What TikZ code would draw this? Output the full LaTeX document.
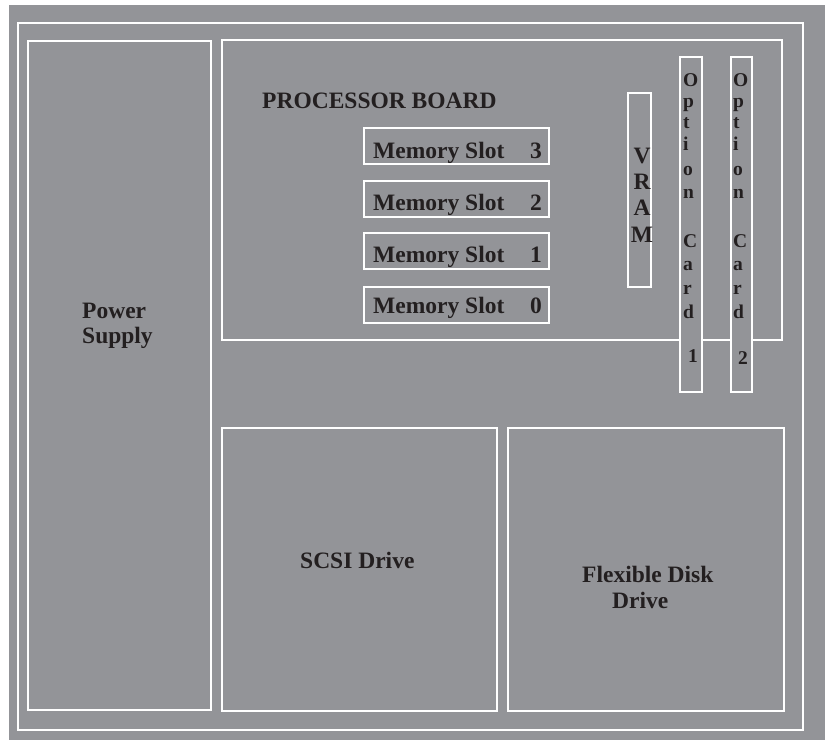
\documentclass[tikz,border=0pt]{standalone}
\usepackage{fontspec}
\setmainfont{Liberation Serif}
\usetikzlibrary{positioning}
\definecolor{panel}{HTML}{939498}
\definecolor{ink}{HTML}{231F20}

\begin{document}
\begin{tikzpicture}[x=1pt,y=-1pt,
    frame/.style={draw=white,line width=2.6pt},
    slotfill/.style={fill=panel,draw=white,line width=2.6pt},
    lbl/.style={text=ink,font=\fontsize{23.5}{25}\selectfont\bfseries,inner sep=0pt},
    small/.style={text=ink,font=\fontsize{19.5}{24}\selectfont\bfseries,inner sep=0pt}]
    \useasboundingbox (0,0) rectangle (825,740);
    \fill[panel] (9,5) rectangle (825,740);
    % case outline
    \draw[frame] (18,23) rectangle (803,730);
    % power supply
    \draw[frame] (28,41) rectangle (211,710);
    \node[lbl,anchor=base west] (pwr) at (82,318) {Power};
    \node[lbl,anchor=base west] (sup) at (82,343) {Supply};
    % processor board
    \draw[frame] (222,40) rectangle (782,340);
    \node[lbl,anchor=base west] (board) at (262,108) {PROCESSOR BOARD};
    % memory slots
    \foreach \n/\top/\base in {3/128/158,2/181/210,1/233/262,0/287/313}{
      \draw[frame] (364,\top) rectangle (549,\top+36);
      \node[lbl,anchor=base west] (mem\n) at (373,\base) {Memory Slot};
      \node[lbl,anchor=base east] (num\n) at (542,\base) {\n};
    }
    % vram
    \draw[frame] (628,93) rectangle (651,287);
    \foreach \ch/\yy in {V/163,R/189,A/215,M/242}
      \node[lbl,anchor=base] (vram\ch) at (642,\yy) {\ch};
    % option cards
    \draw[slotfill] (680,57) rectangle (702,392);
    \draw[slotfill] (731,57) rectangle (752,392);
    \foreach \ch/\yy [count=\i] in {O/86,p/107,t/128,i/150,o/175,n/198,C/247,a/270,r/294,d/318}{
      \node[small,anchor=base west] (cardA\i) at (683,\yy) {\ch};
      \node[small,anchor=base west] (cardB\i) at (733,\yy) {\ch};
    }
    \node[small,anchor=base west] (cardAnum) at (688,362) {1};
    \node[small,anchor=base west] (cardBnum) at (738,364) {2};
    % drives
    \draw[frame] (222,428) rectangle (497,711);
    \node[lbl,anchor=base west] (scsi) at (300,568) {SCSI Drive};
    \draw[frame] (508,428) rectangle (784,711);
    \node[lbl,anchor=base west] (flex) at (582,582) {Flexible Disk};
    \node[lbl,anchor=base west] (drv) at (612,608) {Drive};
\end{tikzpicture}
\end{document}
